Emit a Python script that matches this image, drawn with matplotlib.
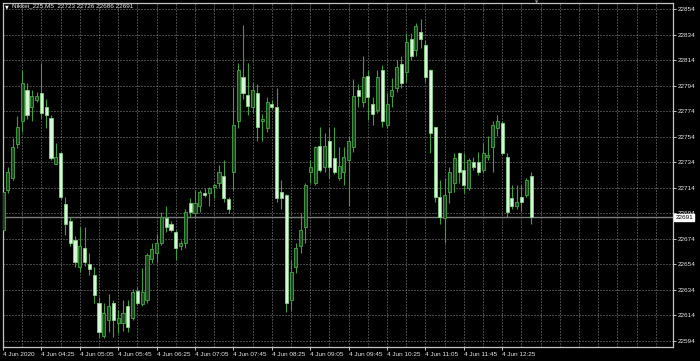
import matplotlib
matplotlib.use("Agg")
import matplotlib.pyplot as plt

symbol = "Nikkei_225,M5"
opens = [22681,22712,22722,22748,22766,22791,22777,22783,22788,22777,
22769,22733,22741,22701,22688,22673,22652,22667,22654,22646,
22624,22598,22610,22624,22608,22608,22621,22612,22633,22623,
22626,22658,22663,22671,22690,22686,22679,22668,22671,22702,
22694,22700,22710,22710,22715,22718,22723,22705,22726,22766,
22801,22787,22777,22788,22766,22761,22780,22777,22711,22708,
22626,22652,22668,22683,22726,22718,22747,22730,22751,22737,
22722,22726,22736,22746,22791,22781,22802,22780,22775,22806,
22763,22786,22792,22811,22805,22831,22822,22836,22826,22806,
22762,22707,22690,22711,22718,22741,22728,22714,22734,22734,
22728,22738,22746,22761,22765,22738,22706,22700,22707,22708,
22723]
highs = [22715,22730,22753,22770,22806,22796,22791,22789,22812,22784,
22771,22749,22742,22707,22691,22676,22683,22683,22663,22652,
22628,22624,22631,22626,22618,22626,22626,22635,22636,22651,
22663,22671,22678,22695,22700,22688,22681,22673,22697,22706,
22712,22712,22714,22715,22718,22732,22736,22707,22793,22812,
22842,22812,22796,22795,22772,22785,22783,22792,22720,22709,
22657,22671,22694,22718,22736,22747,22762,22757,22761,22762,
22746,22746,22755,22799,22795,22817,22806,22785,22806,22810,
22788,22800,22814,22817,22835,22835,22843,22846,22830,22807,
22762,22720,22722,22730,22741,22742,22741,22737,22738,22742,
22749,22755,22766,22771,22766,22741,22716,22716,22716,22722,
22726]
lows = [22679,22710,22720,22745,22758,22768,22766,22781,22769,22761,
22736,22733,22705,22677,22668,22652,22648,22653,22646,22624,
22597,22596,22601,22597,22600,22602,22601,22610,22622,22621,
22624,22655,22656,22669,22679,22679,22657,22665,22667,22691,
22690,22695,22707,22700,22706,22715,22703,22694,22712,22761,
22784,22771,22773,22751,22751,22758,22776,22703,22697,22617,
22618,22647,22663,22671,22718,22716,22726,22726,22722,22725,
22720,22716,22700,22742,22777,22777,22767,22763,22773,22762,
22761,22777,22789,22792,22797,22814,22817,22824,22797,22741,
22703,22686,22671,22702,22711,22718,22710,22712,22728,22724,
22726,22736,22726,22755,22740,22691,22697,22697,22696,22707,
22686]
closes = [22711,22726,22746,22762,22796,22771,22786,22786,22773,22771,
22737,22738,22707,22686,22671,22656,22668,22656,22650,22630,
22601,22616,22621,22610,22612,22616,22605,22632,22624,22632,
22661,22666,22671,22691,22683,22681,22667,22671,22695,22695,
22702,22711,22708,22714,22716,22726,22706,22697,22763,22806,
22788,22778,22791,22762,22768,22781,22777,22706,22706,22624,
22648,22667,22681,22716,22730,22746,22728,22747,22730,22726,
22731,22738,22751,22786,22786,22801,22785,22772,22801,22766,
22780,22791,22809,22796,22828,22817,22841,22831,22801,22757,
22707,22691,22708,22726,22737,22726,22716,22736,22730,22726,
22741,22740,22763,22766,22741,22695,22700,22703,22703,22720,
22691]

time_tick_bars = [0, 8, 16, 24, 32, 40, 48, 56, 64, 72, 80, 88, 96, 104]
time_tick_labels = ["4 Jun 2020", "4 Jun 04:25", "4 Jun 05:05", "4 Jun 05:45",
                    "4 Jun 06:25", "4 Jun 07:05", "4 Jun 07:45", "4 Jun 08:25",
                    "4 Jun 09:05", "4 Jun 09:45", "4 Jun 10:25", "4 Jun 11:05",
                    "4 Jun 11:45", "4 Jun 12:25"]
price_ticks = [22594, 22614, 22634, 22654, 22674, 22694, 22714, 22734,
               22754, 22774, 22794, 22814, 22834, 22854]

FONT = ["Liberation Sans", "DejaVu Sans"]
plt.rcParams["font.family"] = FONT
TXT = "#e6e6e6"
GRID = "#8c8c8c"
FRAME = "#c4c4c4"

W, H = 700, 361
fig = plt.figure(figsize=(W / 100, H / 100), dpi=100, facecolor="black")
ax = fig.add_axes([3 / W, (H - 346.7) / H, 669.7 / W, 343.7 / H])
ax.set_facecolor("black")

ax.set_xlim(0.0, 139.5)
ax.set_ylim(22589.4, 22858.9)

# grid
for gx in range(4, 140, 4):
    ax.axvline(gx, color=GRID, lw=0.72, ls=(0, (1, 2)), zorder=0)
for py in price_ticks:
    ax.axhline(py, color=GRID, lw=0.72, ls=(0, (1, 2)), zorder=0)

# bid line
last = closes[-1]
ax.axhline(last, color="#7c7c7c", lw=1.0, zorder=1)

# candles
bull_face, bull_edge = "#1c4a1c", "#46a846"
bear_face, bear_edge = "#d6f7d6", "#86d286"
wick_col = "#3f9f3f"
for i, (o, h, l, c) in enumerate(zip(opens, highs, lows, closes)):
    ax.vlines(i, l, h, color=wick_col, lw=0.8, zorder=2)
    bot = min(o, c)
    hgt = max(abs(c - o), 0.6)
    if c >= o:
        ax.bar(i, hgt, bottom=bot, width=0.64, color=bull_face,
               edgecolor=bull_edge, linewidth=0.6, zorder=3)
    else:
        ax.bar(i, hgt, bottom=bot, width=0.64, color=bear_face,
               edgecolor=bear_edge, linewidth=0.6, zorder=3)

# axes styling
for s in ax.spines.values():
    s.set_color(FRAME)
    s.set_linewidth(0.9)
ax.yaxis.tick_right()
ax.set_yticks(price_ticks)
ax.set_yticklabels([str(p) for p in price_ticks])
ax.set_xticks(time_tick_bars)
ax.set_xticklabels(time_tick_labels)
for t in ax.get_xticklabels():
    t.set_horizontalalignment("left")
ax.tick_params(axis="both", colors=FRAME, labelcolor=TXT, labelsize=4.6,
               length=2, width=0.7, direction="out")
ax.tick_params(axis="y", pad=1.5)
ax.tick_params(axis="x", pad=1.5)

# current price label (covers the lower part of the 22694 tick label, as in MT4)
ax.text(1.004, last, str(last), transform=ax.get_yaxis_transform(),
        fontsize=4.6, color="black", va="center", ha="left", zorder=10,
        bbox=dict(boxstyle="square,pad=0.15", facecolor="white",
                  edgecolor="white"), clip_on=False)

# header
fig.text(4.5 / W, 1 - 6.5 / H, "\u25bc", fontsize=3.5, color="white",
         va="center", ha="left", family=["DejaVu Sans"])
fig.text(12 / W, 1 - 6 / H,
         f"{symbol}  {opens[-1]} {highs[-1]} {lows[-1]} {closes[-1]}",
         fontsize=4.6, color=TXT, va="center", ha="left")
fig.text(537 / W, 1 - 2.5 / H, "\u25bc", fontsize=3, color="#9a9a9a",
         va="center", ha="center", family=["DejaVu Sans"])

fig.savefig("out.png", dpi=100, facecolor="black")
